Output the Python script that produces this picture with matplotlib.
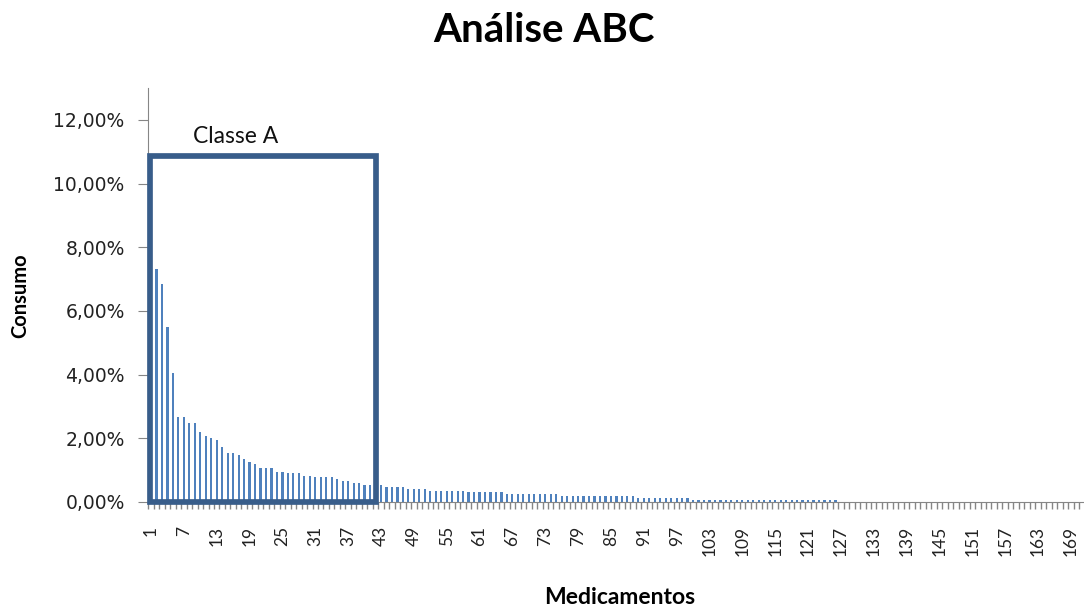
import matplotlib
matplotlib.use("Agg")
import matplotlib.pyplot as plt
import matplotlib.ticker as ticker
from matplotlib.patches import Rectangle

plt.rcParams['font.family'] = ['Lato', 'DejaVu Sans']

# consumo (%) por medicamento, ordenado (curva ABC)
consumo = (
    [10.50, 7.31, 6.84, 5.48, 4.06, 2.66, 2.66, 2.49, 2.49, 2.19,
     2.07, 2.02, 1.95, 1.72, 1.55, 1.55, 1.48, 1.36, 1.26, 1.18,
     1.06, 1.06, 1.06, 0.95, 0.95, 0.90, 0.90, 0.90, 0.83, 0.83,
     0.77, 0.77, 0.77, 0.77, 0.71, 0.66, 0.66, 0.61, 0.61, 0.54,
     0.54, 0.54, 0.53, 0.48, 0.48, 0.48, 0.48, 0.42, 0.42, 0.42,
     0.42, 0.36, 0.36, 0.36, 0.36, 0.36, 0.36, 0.36, 0.30, 0.30,
     0.30, 0.30, 0.30, 0.30, 0.30, 0.25, 0.25, 0.25, 0.25, 0.25,
     0.25, 0.25, 0.25, 0.25, 0.25, 0.19, 0.19, 0.19, 0.19, 0.19,
     0.19, 0.19, 0.19, 0.19, 0.19, 0.19, 0.19, 0.19, 0.19, 0.13,
     0.13, 0.13, 0.13, 0.13, 0.13, 0.13, 0.13, 0.13, 0.13, 0.07,
     0.07, 0.07, 0.07, 0.07, 0.07, 0.07, 0.07, 0.07, 0.07, 0.07,
     0.07, 0.07, 0.07, 0.06, 0.06, 0.06, 0.06, 0.06, 0.06, 0.06,
     0.06, 0.06, 0.06, 0.06, 0.06, 0.06]
    + [0.0] * 45
)
medicamentos = list(range(1, len(consumo) + 1))
tick_labels = medicamentos[::6]

classe_a_fim = 42       # medicamento onde termina a caixa da classe A
classe_a_topo = 10.88   # altura da caixa (%)

fig = plt.figure(figsize=(10.84, 6.07), dpi=100)
ax = fig.add_axes([0.1368, 0.173, 1.0 - 0.1368 + 0.0005, 0.682])

ax.bar(medicamentos, consumo, width=0.4, color='#4F81BD', zorder=2)

ax.set_xlim(0.5, len(consumo) + 0.5)
ax.set_ylim(0, 13)

# eixo y
ax.yaxis.set_major_locator(ticker.FixedLocator([0, 2, 4, 6, 8, 10, 12]))
ax.yaxis.set_major_formatter(
    ticker.FuncFormatter(lambda v, p: f"{v:.2f}%".replace('.', ',')))
ax.tick_params(axis='y', which='major', length=7, color='#868686', pad=10)
for lbl in ax.get_yticklabels():
    lbl.set_family('DejaVu Sans')
    lbl.set_fontsize(13.5)
    lbl.set_color('#222222')

# eixo x: rótulos a cada 6, marcas entre categorias
ax.xaxis.set_major_locator(ticker.FixedLocator(tick_labels))
ax.xaxis.set_major_formatter(ticker.FuncFormatter(lambda v, p: f"{int(v)}"))
ax.xaxis.set_minor_locator(ticker.MultipleLocator(1, offset=0.5))
ax.tick_params(axis='x', which='major', length=0, labelsize=12.5,
               labelrotation=90, labelcolor='#222222', pad=17)
ax.tick_params(axis='x', which='minor', length=5, color='#868686', width=1)

for side in ['top', 'right']:
    ax.spines[side].set_visible(False)
for side in ['left', 'bottom']:
    ax.spines[side].set_color('#868686')

# caixa da classe A
box = Rectangle((0.75, 0), classe_a_fim - 0.75, classe_a_topo, fill=False,
                edgecolor='#385D8A', linewidth=4.1, zorder=5, clip_on=False)
ax.add_patch(box)
ax.text(8.7, 11.47, 'Classe A', ha='left', va='center', fontsize=16.5,
        color='#111111')

fig.text(20 / 1084, 1 - 296 / 607, 'Consumo', rotation=90, ha='center',
         va='center', fontsize=14.5, fontweight='bold')
fig.text(620 / 1084, 1 - 598 / 607, 'Medicamentos', ha='center',
         va='center', fontsize=16.5, fontweight='bold')
fig.text(544 / 1084, 1 - 31 / 607, 'Análise ABC', ha='center', va='center',
         fontsize=29, fontweight='bold')

fig.savefig('out.png', dpi=100)
